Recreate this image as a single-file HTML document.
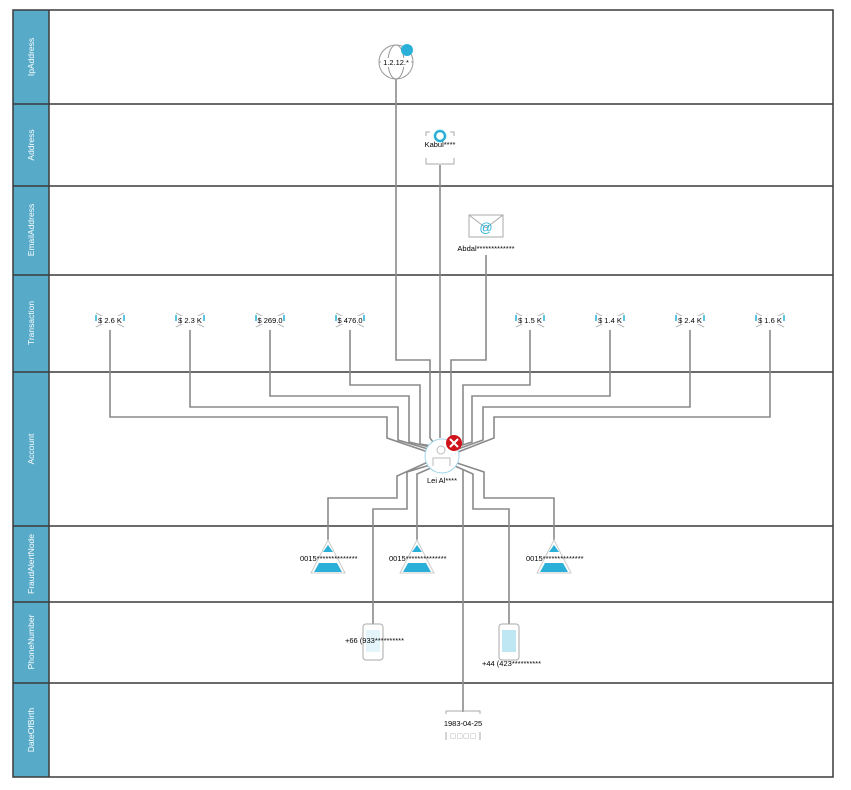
<!DOCTYPE html>
<html><head><meta charset="utf-8"><style>
html,body{margin:0;padding:0;background:#fff;}
svg{display:block;font-family:"Liberation Sans",sans-serif;}
</style></head><body>
<svg width="851" height="790" viewBox="0 0 851 790" xmlns="http://www.w3.org/2000/svg">
<rect x="13" y="10" width="36" height="767" fill="#57abc9"/>
<g stroke="#3a3a3a" stroke-width="1.5" fill="none">
<rect x="13" y="10" width="820" height="767"/>
<line x1="49" y1="10" x2="49" y2="777"/>
<line x1="13" y1="104" x2="833" y2="104"/>
<line x1="13" y1="186" x2="833" y2="186"/>
<line x1="13" y1="275" x2="833" y2="275"/>
<line x1="13" y1="372" x2="833" y2="372"/>
<line x1="13" y1="526" x2="833" y2="526"/>
<line x1="13" y1="602" x2="833" y2="602"/>
<line x1="13" y1="683" x2="833" y2="683"/>
</g>
<g fill="#fff" font-size="8.5" text-anchor="middle">
<text transform="translate(34,57) rotate(-90)">IpAddress</text>
<text transform="translate(34,145) rotate(-90)">Address</text>
<text transform="translate(34,230) rotate(-90)">EmailAddress</text>
<text transform="translate(34,323) rotate(-90)">Transaction</text>
<text transform="translate(34,449) rotate(-90)">Account</text>
<text transform="translate(34,564) rotate(-90)">FraudAlertNode</text>
<text transform="translate(34,642) rotate(-90)">PhoneNumber</text>
<text transform="translate(34,730) rotate(-90)">DateOfBirth</text>
</g>
<g stroke="#8a8a8a" stroke-width="1.6" fill="none">
<polyline points="396,74 396,360 430,360 430,438 436,446"/>
<polyline points="440,165 440,438"/>
<polyline points="486,255 486,360 451,360 451,438 447,444"/>
<polyline points="110,330 110,417 387,417 387,438 428,452"/>
<polyline points="190,330 190,407 398,407 398,440 428,449"/>
<polyline points="270,330 270,396 409,396 409,442 430,447"/>
<polyline points="350,330 350,385 420,385 420,444 432,446"/>
<polyline points="530,330 530,385 463,385 463,444 454,446"/>
<polyline points="610,330 610,396 472,396 472,442 456,447"/>
<polyline points="690,330 690,407 483,407 483,440 458,449"/>
<polyline points="770,330 770,417 494,417 494,438 458,452"/>
<polyline points="428,462 397,476 397,498 328,498 328,540"/>
<polyline points="430,465 407,472 407,509 373,509 373,625"/>
<polyline points="433,467 417,474 417,540"/>
<polyline points="463,470 463,712"/>
<polyline points="455,466 473,474 473,509 509,509 509,625"/>
<polyline points="457,463 484,472 484,498 554,498 554,540"/>
</g>
<g stroke="#999" fill="#fff" stroke-width="1"><circle cx="396" cy="62" r="17"/><ellipse cx="396" cy="62" rx="8" ry="17" fill="none"/><line x1="379" y1="62" x2="413" y2="62"/></g>
<circle cx="407" cy="50" r="6" fill="#2ab0d8"/>
<rect x="381" y="58" width="30" height="9" fill="#fff"/>
<text x="396" y="65" font-size="7.5" text-anchor="middle">1.2.12.*</text>
<path d="M426 136 v-4 h4 M450 132 h4 v4 M426 158 v6 h28 v-6" stroke="#aaa" fill="none"/>
<circle cx="440" cy="136" r="5" stroke="#2ab0d8" stroke-width="2.5" fill="none"/>
<text x="440" y="147" font-size="7.5" text-anchor="middle">Kabul****</text>
<rect x="469" y="215" width="34" height="22" fill="#fff" stroke="#aaa"/>
<path d="M469 215 l17 13 l17 -13" stroke="#aaa" fill="none"/>
<text x="486" y="232" font-size="13" fill="#2ab0d8" text-anchor="middle">@</text>
<text x="486" y="251" font-size="7.5" text-anchor="middle">Abdal*************</text>
<g font-size="7.5" text-anchor="middle" stroke-width="1">
<g transform="translate(110,320)"><path d="M-14 -7 l28 14 M14 -7 l-28 14" stroke="#bbb"/><rect x="-12" y="-4" width="24" height="8" fill="#fff"/><text y="3">$ 2.6 K</text><path d="M-14 -5 v6 M14 -5 v6" stroke="#2ab0d8" stroke-width="1.5"/></g>
<g transform="translate(190,320)"><path d="M-14 -7 l28 14 M14 -7 l-28 14" stroke="#bbb"/><rect x="-12" y="-4" width="24" height="8" fill="#fff"/><text y="3">$ 2.3 K</text><path d="M-14 -5 v6 M14 -5 v6" stroke="#2ab0d8" stroke-width="1.5"/></g>
<g transform="translate(270,320)"><path d="M-14 -7 l28 14 M14 -7 l-28 14" stroke="#bbb"/><rect x="-12" y="-4" width="24" height="8" fill="#fff"/><text y="3">$ 269.0</text><path d="M-14 -5 v6 M14 -5 v6" stroke="#2ab0d8" stroke-width="1.5"/></g>
<g transform="translate(350,320)"><path d="M-14 -7 l28 14 M14 -7 l-28 14" stroke="#bbb"/><rect x="-12" y="-4" width="24" height="8" fill="#fff"/><text y="3">$ 476.0</text><path d="M-14 -5 v6 M14 -5 v6" stroke="#2ab0d8" stroke-width="1.5"/></g>
<g transform="translate(530,320)"><path d="M-14 -7 l28 14 M14 -7 l-28 14" stroke="#bbb"/><rect x="-12" y="-4" width="24" height="8" fill="#fff"/><text y="3">$ 1.5 K</text><path d="M-14 -5 v6 M14 -5 v6" stroke="#2ab0d8" stroke-width="1.5"/></g>
<g transform="translate(610,320)"><path d="M-14 -7 l28 14 M14 -7 l-28 14" stroke="#bbb"/><rect x="-12" y="-4" width="24" height="8" fill="#fff"/><text y="3">$ 1.4 K</text><path d="M-14 -5 v6 M14 -5 v6" stroke="#2ab0d8" stroke-width="1.5"/></g>
<g transform="translate(690,320)"><path d="M-14 -7 l28 14 M14 -7 l-28 14" stroke="#bbb"/><rect x="-12" y="-4" width="24" height="8" fill="#fff"/><text y="3">$ 2.4 K</text><path d="M-14 -5 v6 M14 -5 v6" stroke="#2ab0d8" stroke-width="1.5"/></g>
<g transform="translate(770,320)"><path d="M-14 -7 l28 14 M14 -7 l-28 14" stroke="#bbb"/><rect x="-12" y="-4" width="24" height="8" fill="#fff"/><text y="3">$ 1.6 K</text><path d="M-14 -5 v6 M14 -5 v6" stroke="#2ab0d8" stroke-width="1.5"/></g>
</g>
<circle cx="442" cy="456" r="17" fill="#fff" stroke="#9fd6ea"/>
<circle cx="441" cy="450" r="4" fill="none" stroke="#bbb"/>
<path d="M433 466 v-8 h17 v8" fill="none" stroke="#bbb"/>
<circle cx="454" cy="443" r="8" fill="#d0121b"/>
<path d="M450 439 l8 8 M458 439 l-8 8" stroke="#fff" stroke-width="2"/>
<text x="442" y="483" font-size="7.5" text-anchor="middle">Lei Al****</text>
<g font-size="7.5">
<g transform="translate(328,540)"><path d="M0 0 L17 33 H-17 Z" fill="#fff" stroke="#ccc"/><path d="M0 5 l5 7 h-10z" fill="#2ab0d8"/><path d="M-9 23 h18 l5 9 h-28z" fill="#2ab0d8"/><text x="-28" y="21">0015**************</text></g>
<g transform="translate(417,540)"><path d="M0 0 L17 33 H-17 Z" fill="#fff" stroke="#ccc"/><path d="M0 5 l5 7 h-10z" fill="#2ab0d8"/><path d="M-9 23 h18 l5 9 h-28z" fill="#2ab0d8"/><text x="-28" y="21">0015**************</text></g>
<g transform="translate(554,540)"><path d="M0 0 L17 33 H-17 Z" fill="#fff" stroke="#ccc"/><path d="M0 5 l5 7 h-10z" fill="#2ab0d8"/><path d="M-9 23 h18 l5 9 h-28z" fill="#2ab0d8"/><text x="-28" y="21">0015**************</text></g>
</g>
<rect x="363" y="624" width="20" height="36" rx="3" fill="#fff" stroke="#aaa"/>
<rect x="366" y="630" width="14" height="22" fill="#e3f4fa"/>
<text x="345" y="643" font-size="7.5">+66 (933**********</text>
<rect x="499" y="624" width="20" height="36" rx="3" fill="#fff" stroke="#aaa"/>
<rect x="502" y="630" width="14" height="22" fill="#bfe6f3"/>
<text x="482" y="666" font-size="7.5">+44 (423**********</text>
<path d="M446 714 v-3 h34 v3 M446 732 v8 M480 732 v8" stroke="#aaa" fill="none"/>
<text x="463" y="726" font-size="7.5" text-anchor="middle">1983-04-25</text>
<text x="463" y="738" font-size="7" fill="#aaa" text-anchor="middle">▢▢▢▢</text>
</svg>
</body></html>
